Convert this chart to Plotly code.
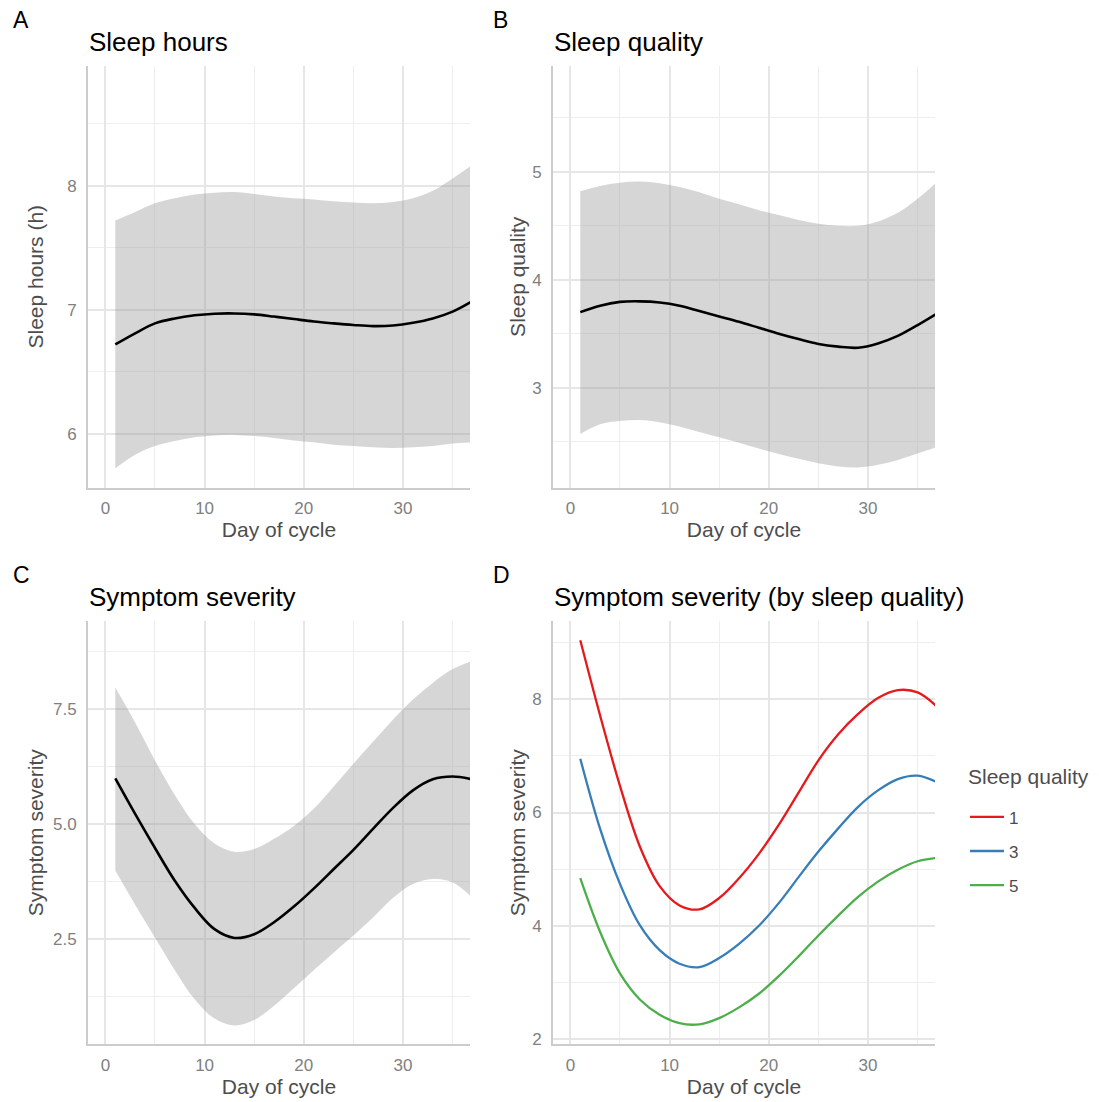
import plotly.graph_objects as go

# ---- data ----
day = [1, 3, 5, 7, 9, 11, 13, 15, 17, 19, 21, 23, 25, 27, 29, 31, 33, 35, 37]

sleep_hours_fit = [6.72, 6.81, 6.89, 6.93, 6.955, 6.968, 6.97, 6.963, 6.945, 6.925, 6.905, 6.89, 6.877, 6.868, 6.873, 6.895, 6.93, 6.985, 7.07]
sleep_hours_hi = [7.72, 7.79, 7.86, 7.90, 7.93, 7.945, 7.95, 7.935, 7.915, 7.90, 7.89, 7.875, 7.865, 7.86, 7.87, 7.90, 7.96, 8.06, 8.17]
sleep_hours_lo = [5.72, 5.83, 5.90, 5.94, 5.97, 5.985, 5.99, 5.98, 5.965, 5.945, 5.93, 5.91, 5.90, 5.89, 5.885, 5.89, 5.90, 5.92, 5.93]

sleep_quality_fit = [3.70, 3.76, 3.795, 3.80, 3.79, 3.76, 3.71, 3.66, 3.61, 3.555, 3.50, 3.45, 3.405, 3.38, 3.37, 3.41, 3.48, 3.58, 3.69]
sleep_quality_hi = [4.82, 4.87, 4.90, 4.91, 4.895, 4.86, 4.81, 4.75, 4.70, 4.645, 4.60, 4.555, 4.52, 4.50, 4.50, 4.54, 4.62, 4.75, 4.91]
sleep_quality_lo = [2.57, 2.66, 2.69, 2.70, 2.68, 2.64, 2.59, 2.54, 2.49, 2.435, 2.385, 2.34, 2.30, 2.27, 2.26, 2.285, 2.33, 2.39, 2.45]

symptom_fit = [5.99, 5.22, 4.48, 3.77, 3.18, 2.72, 2.53, 2.61, 2.87, 3.21, 3.60, 4.02, 4.44, 4.90, 5.35, 5.73, 5.97, 6.03, 5.97]
symptom_hi = [7.96, 7.20, 6.38, 5.63, 5.00, 4.58, 4.40, 4.46, 4.68, 4.96, 5.33, 5.81, 6.31, 6.79, 7.27, 7.70, 8.06, 8.36, 8.54]
symptom_lo = [3.99, 3.25, 2.54, 1.83, 1.20, 0.78, 0.63, 0.75, 1.06, 1.44, 1.83, 2.21, 2.58, 2.98, 3.40, 3.70, 3.81, 3.73, 3.40]

quality_levels = ["1", "3", "5"]
symptom_by_q1 = [9.04, 7.71, 6.47, 5.40, 4.70, 4.36, 4.29, 4.49, 4.84, 5.27, 5.78, 6.35, 6.92, 7.38, 7.74, 8.02, 8.16, 8.12, 7.86]
symptom_by_q3 = [6.95, 5.71, 4.74, 4.01, 3.57, 3.33, 3.27, 3.43, 3.68, 4.00, 4.40, 4.86, 5.31, 5.72, 6.10, 6.39, 6.59, 6.65, 6.53]
symptom_by_q5 = [4.84, 3.89, 3.16, 2.70, 2.43, 2.28, 2.26, 2.37, 2.56, 2.80, 3.11, 3.46, 3.83, 4.18, 4.51, 4.78, 4.99, 5.14, 5.20]
quality_colors = ["#E41A1C", "#377EB8", "#4DAF4A"]
legend_title = "Sleep quality"

panel_titles = ["Sleep hours", "Sleep quality", "Symptom severity", "Symptom severity (by sleep quality)"]
panel_tags = ["A", "B", "C", "D"]
y_titles = ["Sleep hours (h)", "Sleep quality", "Symptom severity", "Symptom severity"]
x_title = "Day of cycle"

# ---- layout geometry ----
W, H = 1099, 1102
FONT = "Liberation Sans, Arial, sans-serif"
BAND = "rgba(153,153,153,0.4)"
GRID = "#e6e6e6"
MINOR = "#eeeeee"
AXLINE = "#cccccc"
SMOOTH = 1.0

x_dom = [[88 / W, 470 / W], [553 / W, 935 / W], [88 / W, 470 / W], [553 / W, 935 / W]]
y_dom = [[1 - 490 / H, 1 - 66 / H], [1 - 490 / H, 1 - 66 / H],
         [1 - 1049 / H, 1 - 624 / H], [1 - 1049 / H, 1 - 624 / H]]
y_ranges = [[5.563, 8.97], [2.072, 5.984], [0.224, 9.40], [1.909, 9.378]]
y_dticks = [1, 1, 2.5, 2]
y_fmt = ["d", "d", ".1f", "d"]
y_standoff = [18, 1, 4, 1]
x_range = [-1.75, 36.75]

fig = go.Figure()

bands = [(sleep_hours_lo, sleep_hours_hi, sleep_hours_fit),
         (sleep_quality_lo, sleep_quality_hi, sleep_quality_fit),
         (symptom_lo, symptom_hi, symptom_fit)]

for i, (lo, hi, fit) in enumerate(bands):
    xa = "x" if i == 0 else f"x{i + 1}"
    ya = "y" if i == 0 else f"y{i + 1}"
    fig.add_trace(go.Scatter(x=day, y=lo, mode="lines", line=dict(width=0, shape="spline", smoothing=SMOOTH),
                             xaxis=xa, yaxis=ya, showlegend=False, hoverinfo="skip"))
    fig.add_trace(go.Scatter(x=day, y=hi, mode="lines", line=dict(width=0, shape="spline", smoothing=SMOOTH),
                             fill="tonexty", fillcolor=BAND,
                             xaxis=xa, yaxis=ya, showlegend=False, hoverinfo="skip"))
    fig.add_trace(go.Scatter(x=day, y=fit, mode="lines",
                             line=dict(color="black", width=2.6, shape="spline", smoothing=SMOOTH),
                             xaxis=xa, yaxis=ya, showlegend=False))

for lvl, vals, col in zip(quality_levels, [symptom_by_q1, symptom_by_q3, symptom_by_q5], quality_colors):
    fig.add_trace(go.Scatter(x=day, y=vals, mode="lines", name=lvl, legendgroup=lvl,
                             line=dict(color=col, width=2.3, shape="spline", smoothing=SMOOTH),
                             xaxis="x4", yaxis="y4"))

layout = dict(
    width=W, height=H,
    margin=dict(l=0, r=0, t=0, b=0),
    paper_bgcolor="white", plot_bgcolor="white",
    font=dict(family=FONT, color="#4d4d4d"),
    showlegend=True,
    legend=dict(
        x=965 / W, xanchor="left", y=1 - 803 / H, yanchor="top",
        font=dict(size=17, color="#4d4d4d"),
        itemwidth=34,
        tracegroupgap=9, bgcolor="rgba(0,0,0,0)",
    ),
)

annotations = [dict(text=legend_title, x=966 / W, y=1 - 780 / H, xref="paper", yref="paper",
                    xanchor="left", yanchor="middle", showarrow=False,
                    font=dict(size=21, color="#4d4d4d"))]
for i in range(4):
    sfx = "" if i == 0 else str(i + 1)
    layout[f"xaxis{sfx}"] = dict(
        domain=x_dom[i], range=x_range, anchor=f"y{sfx}",
        tickmode="linear", tick0=0, dtick=10,
        showgrid=True, gridcolor=GRID, gridwidth=1.8,
        minor=dict(tick0=0, dtick=5, showgrid=True, gridcolor=MINOR, gridwidth=1.2),
        showline=True, linecolor=AXLINE, linewidth=2,
        zeroline=False, ticks="", ticklabelstandoff=4,
        tickfont=dict(size=17, color="#808080"),
        title=dict(text=x_title, font=dict(size=21, color="#4d4d4d"), standoff=3),
    )
    layout[f"yaxis{sfx}"] = dict(
        domain=y_dom[i], range=y_ranges[i], anchor=f"x{sfx}",
        tickmode="linear", tick0=0, dtick=y_dticks[i], tickformat=y_fmt[i],
        showgrid=True, gridcolor=GRID, gridwidth=1.8,
        minor=dict(tick0=0, dtick=y_dticks[i] / 2, showgrid=True, gridcolor=MINOR, gridwidth=1.2),
        showline=True, linecolor=AXLINE, linewidth=2,
        zeroline=False, ticks="", ticklabelstandoff=6,
        tickfont=dict(size=17, color="#808080"),
        title=dict(text=y_titles[i], font=dict(size=21, color="#4d4d4d"), standoff=y_standoff[i]),
    )
    left_px = 87 if i % 2 == 0 else 552
    tag_px = 11 if i % 2 == 0 else 491
    top_px = 0 if i < 2 else 558
    annotations.append(dict(text=panel_titles[i], x=left_px / W, y=1 - (top_px + 42) / H,
                            xref="paper", yref="paper", xanchor="left", yanchor="middle",
                            showarrow=False, font=dict(size=26, color="black")))
    annotations.append(dict(text=panel_tags[i], x=tag_px / W, y=1 - (top_px + 20) / H,
                            xref="paper", yref="paper", xanchor="left", yanchor="middle",
                            showarrow=False, font=dict(size=23, color="black")))
layout["annotations"] = annotations

fig.update_layout(**layout)
fig.write_html("out.html")
